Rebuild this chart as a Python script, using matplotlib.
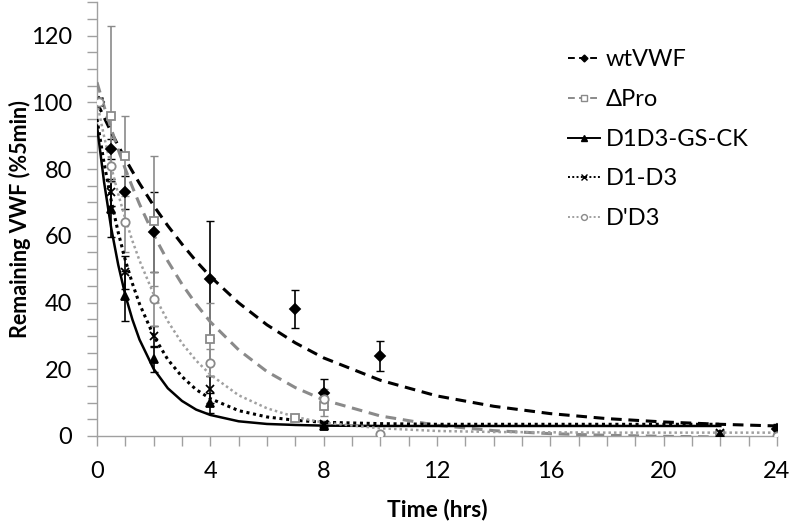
import numpy as np
import matplotlib.pyplot as plt
from matplotlib.ticker import MultipleLocator

# measured points (time in hrs, % of 5 min value, error bar half-width)
wt_t = [0.083, 0.5, 1, 2, 4, 7, 8, 10, 24]
wt_y = [100, 86, 73, 61, 47, 38, 13, 24, 2]
wt_e = [0, 3, 5, 12, 17.5, 5.7, 4, 4.5, 1.5]

pro_t = [0.083, 0.5, 1, 2, 4, 7, 8, 22]
pro_y = [100, 96, 84, 64.5, 29, 5.4, 9, 0.3]
pro_e = [0, 27, 12, 19.5, 11, 1, 3, 0.5]

gs_t = [0.083, 0.5, 1, 2, 4, 8, 22]
gs_y = [100, 68, 42, 23, 10, 3, 0.5]
gs_e = [0, 8.5, 7.5, 3.7, 3, 1, 0.5]

d13_t = [0.083, 0.5, 1, 2, 4, 8, 22]
d13_y = [100, 73, 49, 30, 14, 3.5, 1]
d13_e = [0, 4, 5, 3, 4, 1, 0.5]

dd3_t = [0.083, 0.5, 1, 2, 4, 8, 10, 24]
dd3_y = [100, 81, 64, 41, 22, 11, 0.7, 0]
dd3_e = [0, 5, 9, 8, 4, 3, 0.3, 0.3]

# fitted decay curves at these times
fit_t = [0, 0.25, 0.5, 0.75, 1, 1.25, 1.5, 2, 2.5, 3, 3.5, 4, 5, 6, 7, 8, 10, 12, 14, 16, 18, 20, 22, 24]
wt_fit = [100, 95.5, 91.1, 87.0, 83.0, 79.3, 75.7, 69.0, 63.0, 57.5, 52.4, 47.8, 39.9, 33.3, 27.9, 23.4,
          16.7, 12.0, 8.9, 6.7, 5.2, 4.2, 3.5, 3.0]
pro_fit = [106.0, 98.8, 92.1, 85.8, 80.0, 74.6, 69.5, 60.3, 52.4, 45.5, 39.5, 34.2, 25.8, 19.3, 14.5, 10.8,
           6.0, 3.2, 1.6, 0.7, 0.2, -0.1, -0.3, np.nan]
gs_fit = [93.0, 76.1, 62.4, 51.3, 42.2, 34.9, 28.9, 20.1, 14.3, 10.5, 7.9, 6.3, 4.4, 3.6, 3.3, 3.1,
          3.0, 3.0, 3.0, 3.0, 3.0, 3.0, 3.0, np.nan]
d13_fit = [95.0, 81.8, 70.6, 61.0, 52.7, 45.7, 39.6, 30.0, 22.9, 17.8, 13.9, 11.2, 7.6, 5.7, 4.7, 4.1,
           3.7, 3.5, 3.5, 3.5, 3.5, 3.5, 3.5, np.nan]
dd3_fit = [100.0, 89.8, 80.7, 72.5, 65.1, 58.5, 52.6, 42.5, 34.4, 27.8, 22.6, 18.4, 12.2, 8.3, 5.7, 4.0,
           2.3, 1.5, 1.2, 1.1, 1.0, 1.0, 1.0, 1.0]

plt.rcParams['font.family'] = ['Lato', 'DejaVu Sans']

fig = plt.figure(figsize=(7.91, 5.22), dpi=100)
ax = fig.add_axes([0.1226, 0.1648, 0.8597, 0.831])

grey_dark = '#8a8a8a'
grey_light = '#a0a0a0'

series = [
    ('wtVWF', wt_t, wt_y, wt_e, wt_fit, 'black', (0, (3.5, 2.2)), 'D', 'black', 'black', 5, 2.2),
    ('ΔPro', pro_t, pro_y, pro_e, pro_fit, grey_dark, (0, (3.5, 2.2)), 's', 'white', grey_dark, 6, 2.2),
    ('D1D3-GS-CK', gs_t, gs_y, gs_e, gs_fit, 'black', '-', '^', 'black', 'black', 5.5, 1.8),
    ('D1-D3', d13_t, d13_y, d13_e, d13_fit, 'black', (0, (1, 1.2)), 'x', 'black', 'black', 6, 2.2),
    ("D'D3", dd3_t, dd3_y, dd3_e, dd3_fit, grey_light, (0, (1, 1.2)), 'o', 'white', grey_dark, 6, 1.8),
]

handles = []
for name, t, y, e, fit, col, ls, mk, mfc, mec, ms, lw in series:
    ax.errorbar(t, y, yerr=e, fmt='none', ecolor=mec, elinewidth=1.2, capsize=3, zorder=2)
    ax.plot(fit_t, fit, color=col, linestyle=ls, linewidth=lw, zorder=3)
    ax.plot(t, y, linestyle='none', marker=mk, markersize=ms, markerfacecolor=mfc,
            markeredgecolor=mec, markeredgewidth=1.3, zorder=4)
    h, = ax.plot([], [], color=col, linestyle=ls, linewidth=1.4, marker=mk, markersize=ms * 0.7,
                 markerfacecolor=mfc, markeredgecolor=mec, markeredgewidth=1.0)
    handles.append((h, name))

ax.set_xlim(0, 24)
ax.set_ylim(0, 130)
ax.xaxis.set_major_locator(MultipleLocator(4))
ax.xaxis.set_minor_locator(MultipleLocator(1))
ax.yaxis.set_major_locator(MultipleLocator(20))
ax.yaxis.set_minor_locator(MultipleLocator(5))
ax.set_yticks([0, 20, 40, 60, 80, 100, 120])

for s in ['top', 'right']:
    ax.spines[s].set_visible(False)
for s in ['left', 'bottom']:
    ax.spines[s].set_color('#a0a0a0')
    ax.spines[s].set_linewidth(1.0)
ax.tick_params(which='both', direction='out', length=7, color='#a0a0a0', width=1.0)
ax.tick_params(which='major', labelsize=17, pad=11)

ax.set_xlabel('Time (hrs)', fontsize=16.5, fontweight='bold', labelpad=12)
ax.set_ylabel('Remaining VWF (%5min)', fontsize=15.5, fontweight='bold', labelpad=0)

leg = ax.legend([h for h, n in handles], [n for h, n in handles], loc='upper left',
                bbox_to_anchor=(0.661, 0.94), frameon=False, fontsize=17, handlelength=1.35,
                handletextpad=0.25, labelspacing=0.79)

fig.savefig('out.png', dpi=100)
